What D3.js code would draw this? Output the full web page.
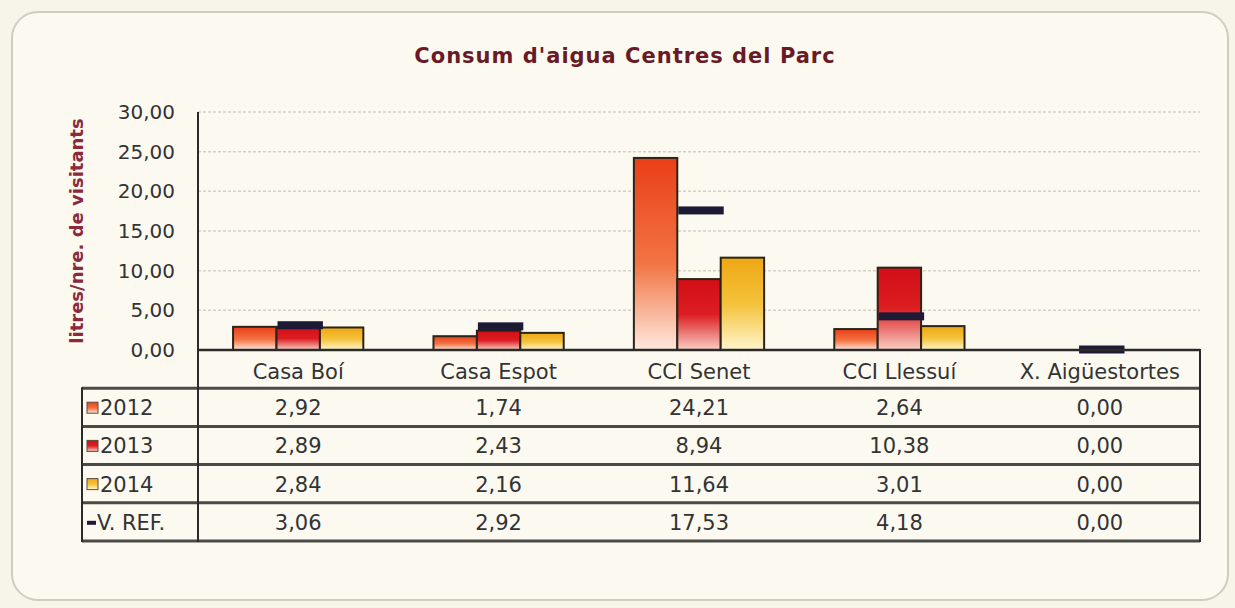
<!DOCTYPE html>
<html>
<head>
<meta charset="utf-8">
<script src="https://cdn.jsdelivr.net/npm/d3@7/dist/d3.min.js"></script>
<style>
  body { margin: 0; background: #f7f5ea; }
  svg { display: block; }
</style>
</head>
<body>
<svg id="chart"></svg>
<script>
// data
var centres = ["Casa Boí", "Casa Espot", "CCI Senet", "CCI Llessuí", "X. Aigüestortes"];
var years = ["2012", "2013", "2014"];
var val2012 = [2.92, 1.74, 24.21, 2.64, 0.00];
var val2013 = [2.89, 2.43, 8.94, 10.38, 0.00];
var val2014 = [2.84, 2.16, 11.64, 3.01, 0.00];
var valRef = [3.06, 2.92, 17.53, 4.18, 0.00];
var yTicks = [0, 5, 10, 15, 20, 25, 30];

var svgW = 1235;
var svgH = 608;

var plotLeft = 198;
var plotRight = 1200;
var plotTop = 112;
var plotBottom = 350;
var tableLeft = 82;
var rowH = 38.2;
var txtSize = "21px";

var fmt = function(v){ return d3.format(".2f")(v).replace(".", ","); };

var svg = d3.select("#chart")
  .attr("width", svgW)
  .attr("height", svgH);

// gradients for the bars
var defs = svg.append("defs");
var gradStops = {
  "2012": [["0%", "#ea3f18"], ["55%", "#f27444"], ["100%", "#fde9de"]],
  "2013": [["0%", "#d20e17"], ["50%", "#dc1e22"], ["100%", "#f9cfc4"]],
  "2014": [["0%", "#efa714"], ["50%", "#f4c23a"], ["100%", "#fff5cc"]]
};
years.forEach(function(y){
  var g = defs.append("linearGradient")
    .attr("id", "grad" + y)
    .attr("x1", 0).attr("y1", 0).attr("x2", 0).attr("y2", 1);
  gradStops[y].forEach(function(s){
    g.append("stop").attr("offset", s[0]).attr("stop-color", s[1]);
  });
});

// card background
svg.append("rect")
  .attr("x", 12).attr("y", 12)
  .attr("width", 1216).attr("height", 588)
  .attr("rx", 26).attr("ry", 26)
  .attr("fill", "#fcfaf0")
  .attr("stroke", "#cfcdbd")
  .attr("stroke-width", 2);

// title
svg.append("text")
  .attr("x", 625).attr("y", 63)
  .attr("text-anchor", "middle")
  .style("font-family", "DejaVu Sans")
  .style("font-weight", "bold")
  .style("font-size", "21px")
  .style("letter-spacing", "1px")
  .attr("fill", "#6a1a26")
  .text("Consum d'aigua Centres del Parc");

// y label
svg.append("text")
  .attr("transform", "translate(83," + 231 + ") rotate(-90)")
  .attr("text-anchor", "middle")
  .style("font-family", "DejaVu Sans")
  .style("font-weight", "bold")
  .style("font-size", "18px")
  .attr("fill", "#8a2a3c")
  .text("litres/nre. de visitants");

var yScale = d3.scaleLinear()
  .domain([0, 30])
  .range([plotBottom, plotTop]);

var x0 = d3.scaleBand()
  .domain(centres)
  .range([plotLeft, plotRight])
  .paddingInner(0.35)
  .paddingOuter(0.175);

var x1 = d3.scaleBand()
  .domain(years)
  .range([0, x0.bandwidth()]);

// grid lines
svg.append("g")
  .selectAll("line")
  .data(yTicks.filter(function(t){ return t > 0; }))
  .enter()
  .append("line")
    .attr("x1", plotLeft).attr("x2", plotRight)
    .attr("y1", function(d){ return yScale(d); })
    .attr("y2", function(d){ return yScale(d); })
    .attr("stroke", "#d4d2c4")
    .attr("stroke-width", 1.5)
    .attr("stroke-dasharray", "3,2");

// y axis tick labels
var yAxis = d3.axisLeft(yScale)
  .tickValues(yTicks)
  .tickSize(0)
  .tickPadding(23)
  .tickFormat(fmt);

var yAxisG = svg.append("g")
  .attr("transform", "translate(" + plotLeft + ",0)")
  .call(yAxis);
yAxisG.select(".domain").remove();
yAxisG.selectAll("text")
  .style("font-family", "DejaVu Sans")
  .style("font-size", "20px")
  .attr("fill", "#333");

// bars
var seriesVals = { "2012": val2012, "2013": val2013, "2014": val2014 };

var groupes = svg.append("g")
  .selectAll("g")
  .data(centres)
  .enter()
  .append("g")
    .attr("transform", function(d){ return "translate(" + x0(d) + ",0)"; });

groupes.selectAll("rect")
  .data(function(d, i){
    return years.map(function(y){ return { year: y, value: seriesVals[y][i] }; });
  })
  .enter()
  .append("rect")
    .filter(function(d){ return d.value > 0; })
    .attr("x", function(d){ return x1(d.year); })
    .attr("y", function(d){ return yScale(d.value); })
    .attr("width", x1.bandwidth())
    .attr("height", function(d){ return yScale(0) - yScale(d.value); })
    .attr("fill", function(d){ return "url(#grad" + d.year + ")"; })
    .attr("stroke", "#2b2418")
    .attr("stroke-width", 2);

// reference markers on the middle slot
groupes.append("rect")
  .attr("x", x1("2013") + 1)
  .attr("y", function(d, i){ return yScale(valRef[i]) - 4.5; })
  .attr("width", x1.bandwidth() + 2)
  .attr("height", 8)
  .attr("fill", "#1c1a34");

// table
var tableG = svg.append("g");
var lineCol = "#4a4a46";

// horizontal rules
var ruleYs = [0, 1, 2, 3, 4].map(function(i){ return plotBottom + rowH * (i + 1); });
tableG.selectAll("line.rule")
  .data(ruleYs)
  .enter()
  .append("line")
    .attr("class", "rule")
    .attr("x1", tableLeft).attr("x2", plotRight)
    .attr("y1", function(d){ return d; })
    .attr("y2", function(d){ return d; })
    .attr("stroke", lineCol)
    .attr("stroke-width", 3);

// axis baseline
svg.append("line")
  .attr("x1", plotLeft).attr("x2", plotRight)
  .attr("y1", plotBottom).attr("y2", plotBottom)
  .attr("stroke", "#2a2a28")
  .attr("stroke-width", 2.5);

// vertical lines
svg.append("line")
  .attr("x1", plotLeft).attr("x2", plotLeft)
  .attr("y1", plotTop).attr("y2", ruleYs[4] + 1)
  .attr("stroke", "#2a2a28")
  .attr("stroke-width", 2);
svg.append("line")
  .attr("x1", tableLeft).attr("x2", tableLeft)
  .attr("y1", ruleYs[0] - 1).attr("y2", ruleYs[4] + 1)
  .attr("stroke", "#2a2a28")
  .attr("stroke-width", 2);
svg.append("line")
  .attr("x1", plotRight).attr("x2", plotRight)
  .attr("y1", plotBottom - 1).attr("y2", ruleYs[4] + 1)
  .attr("stroke", "#2a2a28")
  .attr("stroke-width", 2);

// category labels (header row)
tableG.selectAll("text.cat")
  .data(centres)
  .enter()
  .append("text")
    .attr("class", "cat")
    .attr("x", function(d){ return x0(d) + x0.bandwidth() / 2; })
    .attr("y", plotBottom + 29)
    .attr("text-anchor", "middle")
    .style("font-family", "DejaVu Sans")
    .style("font-size", txtSize)
    .attr("fill", "#333")
    .text(function(d){ return d; });

var rows = [
  { label: "2012", vals: val2012, key: "2012" },
  { label: "2013", vals: val2013, key: "2013" },
  { label: "2014", vals: val2014, key: "2014" },
  { label: "V. REF.", vals: valRef, key: "ref" }
];

var rowG = tableG.selectAll("g.row")
  .data(rows)
  .enter()
  .append("g")
    .attr("class", "row")
    .attr("transform", function(d, i){ return "translate(0," + ruleYs[i] + ")"; });

rowG.selectAll("text.val")
  .data(function(d){ return d.vals; })
  .enter()
  .append("text")
    .attr("class", "val")
    .attr("x", function(d, i){ return x0(centres[i]) + x0.bandwidth() / 2; })
    .attr("y", 27)
    .attr("text-anchor", "middle")
    .style("font-family", "DejaVu Sans")
    .style("font-size", txtSize)
    .attr("fill", "#333")
    .text(function(d){ return fmt(d); });

// legend swatches
rowG.filter(function(d){ return d.key != "ref"; })
  .append("rect")
    .attr("x", 87).attr("y", 14)
    .attr("width", 11).attr("height", 11)
    .attr("fill", function(d){ return "url(#grad" + d.key + ")"; })
    .attr("stroke", "#5a4a40")
    .attr("stroke-width", 1);

rowG.filter(function(d){ return d.key == "ref"; })
  .append("rect")
    .attr("x", 87).attr("y", 18)
    .attr("width", 9).attr("height", 4)
    .attr("fill", "#1c1a34");

rowG.append("text")
  .attr("x", function(d){ return d.key == "ref" ? 97 : 100; })
  .attr("y", 27)
  .style("font-family", "DejaVu Sans")
  .style("font-size", txtSize)
  .attr("fill", "#333")
  .text(function(d){ return d.label; });
</script>
</body>
</html>
